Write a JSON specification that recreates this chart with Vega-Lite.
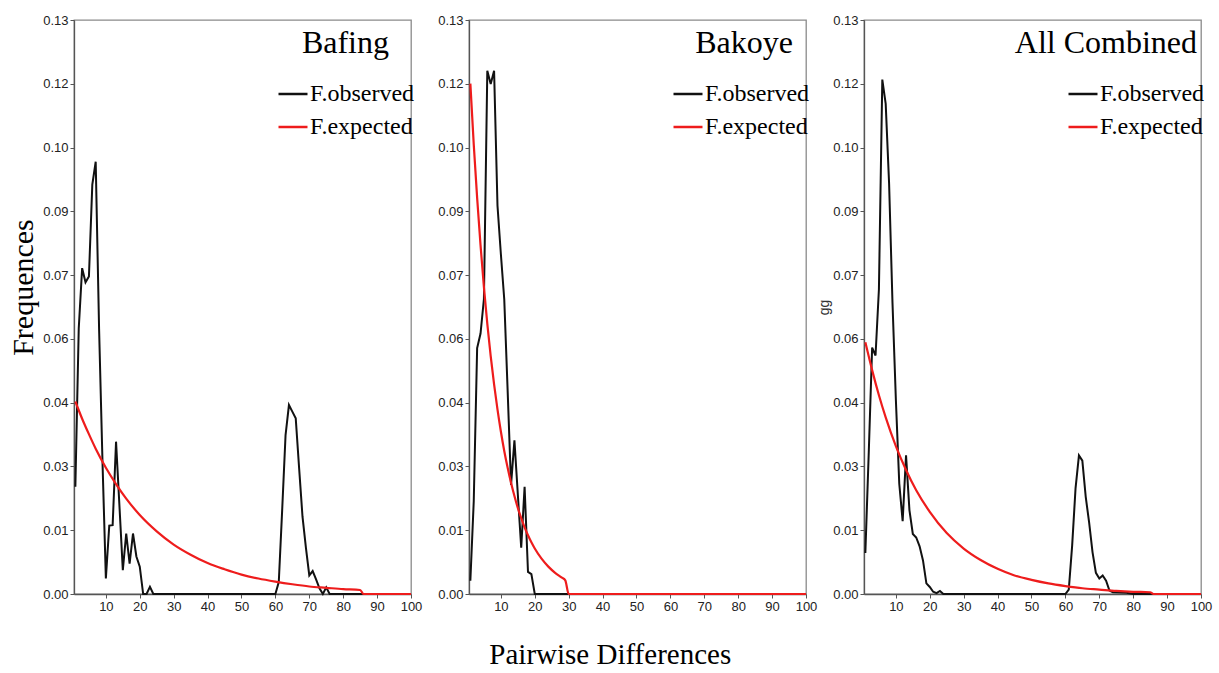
{
  "$schema": "https://vega.github.io/schema/vega-lite/v6.json",
  "background": "white",
  "padding": {"left": 8, "top": 13, "right": 8, "bottom": 2},
  "datasets": {
    "pd": [
      {"panel": "Bafing", "series": "F.observed", "diff": 1, "freq": 0.0243},
      {"panel": "Bafing", "series": "F.observed", "diff": 2, "freq": 0.0602},
      {"panel": "Bafing", "series": "F.observed", "diff": 3, "freq": 0.0738},
      {"panel": "Bafing", "series": "F.observed", "diff": 4, "freq": 0.0706},
      {"panel": "Bafing", "series": "F.observed", "diff": 5, "freq": 0.0719},
      {"panel": "Bafing", "series": "F.observed", "diff": 6, "freq": 0.0927},
      {"panel": "Bafing", "series": "F.observed", "diff": 7, "freq": 0.0979},
      {"panel": "Bafing", "series": "F.observed", "diff": 8, "freq": 0.060},
      {"panel": "Bafing", "series": "F.observed", "diff": 9, "freq": 0.030},
      {"panel": "Bafing", "series": "F.observed", "diff": 10, "freq": 0.0035},
      {"panel": "Bafing", "series": "F.observed", "diff": 11, "freq": 0.0155},
      {"panel": "Bafing", "series": "F.observed", "diff": 12, "freq": 0.0156},
      {"panel": "Bafing", "series": "F.observed", "diff": 13, "freq": 0.0345},
      {"panel": "Bafing", "series": "F.observed", "diff": 14, "freq": 0.020},
      {"panel": "Bafing", "series": "F.observed", "diff": 15, "freq": 0.0054},
      {"panel": "Bafing", "series": "F.observed", "diff": 16, "freq": 0.0137},
      {"panel": "Bafing", "series": "F.observed", "diff": 17, "freq": 0.0069},
      {"panel": "Bafing", "series": "F.observed", "diff": 18, "freq": 0.0137},
      {"panel": "Bafing", "series": "F.observed", "diff": 19, "freq": 0.0085},
      {"panel": "Bafing", "series": "F.observed", "diff": 20, "freq": 0.0062},
      {"panel": "Bafing", "series": "F.observed", "diff": 21, "freq": 0},
      {"panel": "Bafing", "series": "F.observed", "diff": 22, "freq": 0},
      {"panel": "Bafing", "series": "F.observed", "diff": 23, "freq": 0.0016},
      {"panel": "Bafing", "series": "F.observed", "diff": 24, "freq": 0},
      {"panel": "Bafing", "series": "F.observed", "diff": 60, "freq": 0},
      {"panel": "Bafing", "series": "F.observed", "diff": 61, "freq": 0.0027},
      {"panel": "Bafing", "series": "F.observed", "diff": 62, "freq": 0.019},
      {"panel": "Bafing", "series": "F.observed", "diff": 63, "freq": 0.036},
      {"panel": "Bafing", "series": "F.observed", "diff": 64, "freq": 0.0428},
      {"panel": "Bafing", "series": "F.observed", "diff": 65, "freq": 0.0413},
      {"panel": "Bafing", "series": "F.observed", "diff": 66, "freq": 0.0398},
      {"panel": "Bafing", "series": "F.observed", "diff": 67, "freq": 0.0285},
      {"panel": "Bafing", "series": "F.observed", "diff": 68, "freq": 0.0175},
      {"panel": "Bafing", "series": "F.observed", "diff": 69, "freq": 0.0105},
      {"panel": "Bafing", "series": "F.observed", "diff": 70, "freq": 0.0042},
      {"panel": "Bafing", "series": "F.observed", "diff": 71, "freq": 0.0052},
      {"panel": "Bafing", "series": "F.observed", "diff": 72, "freq": 0.0033},
      {"panel": "Bafing", "series": "F.observed", "diff": 73, "freq": 0.0013},
      {"panel": "Bafing", "series": "F.observed", "diff": 74, "freq": 0},
      {"panel": "Bafing", "series": "F.observed", "diff": 75, "freq": 0.0015},
      {"panel": "Bafing", "series": "F.observed", "diff": 76, "freq": 0},
      {"panel": "Bafing", "series": "F.observed", "diff": 100, "freq": 0},
      {"panel": "Bafing", "series": "F.expected", "diff": 1, "freq": 0.0436},
      {"panel": "Bafing", "series": "F.expected", "diff": 3, "freq": 0.0397},
      {"panel": "Bafing", "series": "F.expected", "diff": 5, "freq": 0.0362},
      {"panel": "Bafing", "series": "F.expected", "diff": 7, "freq": 0.0329},
      {"panel": "Bafing", "series": "F.expected", "diff": 10, "freq": 0.0286},
      {"panel": "Bafing", "series": "F.expected", "diff": 13, "freq": 0.0249},
      {"panel": "Bafing", "series": "F.expected", "diff": 16, "freq": 0.0216},
      {"panel": "Bafing", "series": "F.expected", "diff": 20, "freq": 0.0179},
      {"panel": "Bafing", "series": "F.expected", "diff": 25, "freq": 0.0142},
      {"panel": "Bafing", "series": "F.expected", "diff": 30, "freq": 0.0112},
      {"panel": "Bafing", "series": "F.expected", "diff": 35, "freq": 0.0089},
      {"panel": "Bafing", "series": "F.expected", "diff": 40, "freq": 0.0070},
      {"panel": "Bafing", "series": "F.expected", "diff": 45, "freq": 0.0056},
      {"panel": "Bafing", "series": "F.expected", "diff": 50, "freq": 0.0044},
      {"panel": "Bafing", "series": "F.expected", "diff": 55, "freq": 0.0035},
      {"panel": "Bafing", "series": "F.expected", "diff": 60, "freq": 0.0028},
      {"panel": "Bafing", "series": "F.expected", "diff": 65, "freq": 0.0022},
      {"panel": "Bafing", "series": "F.expected", "diff": 70, "freq": 0.0017},
      {"panel": "Bafing", "series": "F.expected", "diff": 75, "freq": 0.0014},
      {"panel": "Bafing", "series": "F.expected", "diff": 80, "freq": 0.0011},
      {"panel": "Bafing", "series": "F.expected", "diff": 85, "freq": 0.0009},
      {"panel": "Bafing", "series": "F.expected", "diff": 86, "freq": 0},
      {"panel": "Bafing", "series": "F.expected", "diff": 100, "freq": 0},

      {"panel": "Bakoye", "series": "F.observed", "diff": 1, "freq": 0.003},
      {"panel": "Bakoye", "series": "F.observed", "diff": 2, "freq": 0.021},
      {"panel": "Bakoye", "series": "F.observed", "diff": 3, "freq": 0.0557},
      {"panel": "Bakoye", "series": "F.observed", "diff": 4, "freq": 0.059},
      {"panel": "Bakoye", "series": "F.observed", "diff": 5, "freq": 0.0668},
      {"panel": "Bakoye", "series": "F.observed", "diff": 6, "freq": 0.1185},
      {"panel": "Bakoye", "series": "F.observed", "diff": 7, "freq": 0.1155},
      {"panel": "Bakoye", "series": "F.observed", "diff": 8, "freq": 0.1185},
      {"panel": "Bakoye", "series": "F.observed", "diff": 9, "freq": 0.088},
      {"panel": "Bakoye", "series": "F.observed", "diff": 10, "freq": 0.077},
      {"panel": "Bakoye", "series": "F.observed", "diff": 11, "freq": 0.0667},
      {"panel": "Bakoye", "series": "F.observed", "diff": 12, "freq": 0.046},
      {"panel": "Bakoye", "series": "F.observed", "diff": 13, "freq": 0.0247},
      {"panel": "Bakoye", "series": "F.observed", "diff": 14, "freq": 0.0348},
      {"panel": "Bakoye", "series": "F.observed", "diff": 15, "freq": 0.0226},
      {"panel": "Bakoye", "series": "F.observed", "diff": 16, "freq": 0.0105},
      {"panel": "Bakoye", "series": "F.observed", "diff": 17, "freq": 0.0243},
      {"panel": "Bakoye", "series": "F.observed", "diff": 18, "freq": 0.005},
      {"panel": "Bakoye", "series": "F.observed", "diff": 19, "freq": 0.0045},
      {"panel": "Bakoye", "series": "F.observed", "diff": 20, "freq": 0},
      {"panel": "Bakoye", "series": "F.observed", "diff": 100, "freq": 0},
      {"panel": "Bakoye", "series": "F.expected", "diff": 1, "freq": 0.1156},
      {"panel": "Bakoye", "series": "F.expected", "diff": 2, "freq": 0.1018},
      {"panel": "Bakoye", "series": "F.expected", "diff": 3, "freq": 0.0897},
      {"panel": "Bakoye", "series": "F.expected", "diff": 4, "freq": 0.0790},
      {"panel": "Bakoye", "series": "F.expected", "diff": 5, "freq": 0.0695},
      {"panel": "Bakoye", "series": "F.expected", "diff": 6, "freq": 0.0612},
      {"panel": "Bakoye", "series": "F.expected", "diff": 7, "freq": 0.0539},
      {"panel": "Bakoye", "series": "F.expected", "diff": 8, "freq": 0.0475},
      {"panel": "Bakoye", "series": "F.expected", "diff": 9, "freq": 0.0418},
      {"panel": "Bakoye", "series": "F.expected", "diff": 10, "freq": 0.0368},
      {"panel": "Bakoye", "series": "F.expected", "diff": 11, "freq": 0.0324},
      {"panel": "Bakoye", "series": "F.expected", "diff": 12, "freq": 0.0286},
      {"panel": "Bakoye", "series": "F.expected", "diff": 13, "freq": 0.0252},
      {"panel": "Bakoye", "series": "F.expected", "diff": 14, "freq": 0.0222},
      {"panel": "Bakoye", "series": "F.expected", "diff": 15, "freq": 0.0195},
      {"panel": "Bakoye", "series": "F.expected", "diff": 16, "freq": 0.0172},
      {"panel": "Bakoye", "series": "F.expected", "diff": 17, "freq": 0.0151},
      {"panel": "Bakoye", "series": "F.expected", "diff": 18, "freq": 0.0133},
      {"panel": "Bakoye", "series": "F.expected", "diff": 19, "freq": 0.0117},
      {"panel": "Bakoye", "series": "F.expected", "diff": 20, "freq": 0.0103},
      {"panel": "Bakoye", "series": "F.expected", "diff": 22, "freq": 0.0080},
      {"panel": "Bakoye", "series": "F.expected", "diff": 24, "freq": 0.0062},
      {"panel": "Bakoye", "series": "F.expected", "diff": 26, "freq": 0.0048},
      {"panel": "Bakoye", "series": "F.expected", "diff": 28, "freq": 0.0037},
      {"panel": "Bakoye", "series": "F.expected", "diff": 29, "freq": 0.0031},
      {"panel": "Bakoye", "series": "F.expected", "diff": 30, "freq": 0},
      {"panel": "Bakoye", "series": "F.expected", "diff": 100, "freq": 0},

      {"panel": "All", "series": "F.observed", "diff": 1, "freq": 0.0093},
      {"panel": "All", "series": "F.observed", "diff": 2, "freq": 0.032},
      {"panel": "All", "series": "F.observed", "diff": 3, "freq": 0.0558},
      {"panel": "All", "series": "F.observed", "diff": 4, "freq": 0.054},
      {"panel": "All", "series": "F.observed", "diff": 5, "freq": 0.069},
      {"panel": "All", "series": "F.observed", "diff": 6, "freq": 0.1165},
      {"panel": "All", "series": "F.observed", "diff": 7, "freq": 0.111},
      {"panel": "All", "series": "F.observed", "diff": 8, "freq": 0.093},
      {"panel": "All", "series": "F.observed", "diff": 9, "freq": 0.066},
      {"panel": "All", "series": "F.observed", "diff": 10, "freq": 0.044},
      {"panel": "All", "series": "F.observed", "diff": 11, "freq": 0.025},
      {"panel": "All", "series": "F.observed", "diff": 12, "freq": 0.0165},
      {"panel": "All", "series": "F.observed", "diff": 13, "freq": 0.0314},
      {"panel": "All", "series": "F.observed", "diff": 14, "freq": 0.019},
      {"panel": "All", "series": "F.observed", "diff": 15, "freq": 0.0136},
      {"panel": "All", "series": "F.observed", "diff": 16, "freq": 0.0128},
      {"panel": "All", "series": "F.observed", "diff": 17, "freq": 0.0108},
      {"panel": "All", "series": "F.observed", "diff": 18, "freq": 0.0076},
      {"panel": "All", "series": "F.observed", "diff": 19, "freq": 0.0024},
      {"panel": "All", "series": "F.observed", "diff": 20, "freq": 0.0016},
      {"panel": "All", "series": "F.observed", "diff": 21, "freq": 0.0005},
      {"panel": "All", "series": "F.observed", "diff": 22, "freq": 0.0002},
      {"panel": "All", "series": "F.observed", "diff": 23, "freq": 0.0007},
      {"panel": "All", "series": "F.observed", "diff": 24, "freq": 0},
      {"panel": "All", "series": "F.observed", "diff": 60, "freq": 0},
      {"panel": "All", "series": "F.observed", "diff": 61, "freq": 0.001},
      {"panel": "All", "series": "F.observed", "diff": 62, "freq": 0.011},
      {"panel": "All", "series": "F.observed", "diff": 63, "freq": 0.024},
      {"panel": "All", "series": "F.observed", "diff": 64, "freq": 0.0314},
      {"panel": "All", "series": "F.observed", "diff": 65, "freq": 0.0302},
      {"panel": "All", "series": "F.observed", "diff": 66, "freq": 0.022},
      {"panel": "All", "series": "F.observed", "diff": 67, "freq": 0.0162},
      {"panel": "All", "series": "F.observed", "diff": 68, "freq": 0.0095},
      {"panel": "All", "series": "F.observed", "diff": 69, "freq": 0.0048},
      {"panel": "All", "series": "F.observed", "diff": 70, "freq": 0.0035},
      {"panel": "All", "series": "F.observed", "diff": 71, "freq": 0.0042},
      {"panel": "All", "series": "F.observed", "diff": 72, "freq": 0.003},
      {"panel": "All", "series": "F.observed", "diff": 73, "freq": 0.0008},
      {"panel": "All", "series": "F.observed", "diff": 74, "freq": 0.0004},
      {"panel": "All", "series": "F.observed", "diff": 78, "freq": 0.0003},
      {"panel": "All", "series": "F.observed", "diff": 80, "freq": 0},
      {"panel": "All", "series": "F.observed", "diff": 100, "freq": 0},
      {"panel": "All", "series": "F.expected", "diff": 1, "freq": 0.057},
      {"panel": "All", "series": "F.expected", "diff": 3, "freq": 0.0507},
      {"panel": "All", "series": "F.expected", "diff": 5, "freq": 0.0450},
      {"panel": "All", "series": "F.expected", "diff": 7, "freq": 0.0400},
      {"panel": "All", "series": "F.expected", "diff": 10, "freq": 0.0335},
      {"panel": "All", "series": "F.expected", "diff": 13, "freq": 0.0281},
      {"panel": "All", "series": "F.expected", "diff": 16, "freq": 0.0235},
      {"panel": "All", "series": "F.expected", "diff": 20, "freq": 0.0186},
      {"panel": "All", "series": "F.expected", "diff": 25, "freq": 0.0138},
      {"panel": "All", "series": "F.expected", "diff": 30, "freq": 0.0103},
      {"panel": "All", "series": "F.expected", "diff": 35, "freq": 0.0077},
      {"panel": "All", "series": "F.expected", "diff": 40, "freq": 0.0057},
      {"panel": "All", "series": "F.expected", "diff": 45, "freq": 0.0042},
      {"panel": "All", "series": "F.expected", "diff": 50, "freq": 0.0032},
      {"panel": "All", "series": "F.expected", "diff": 55, "freq": 0.0024},
      {"panel": "All", "series": "F.expected", "diff": 60, "freq": 0.0018},
      {"panel": "All", "series": "F.expected", "diff": 65, "freq": 0.0013},
      {"panel": "All", "series": "F.expected", "diff": 70, "freq": 0.0010},
      {"panel": "All", "series": "F.expected", "diff": 75, "freq": 0.0007},
      {"panel": "All", "series": "F.expected", "diff": 80, "freq": 0.0005},
      {"panel": "All", "series": "F.expected", "diff": 85, "freq": 0.0004},
      {"panel": "All", "series": "F.expected", "diff": 86, "freq": 0},
      {"panel": "All", "series": "F.expected", "diff": 100, "freq": 0}
    ]
  },
  "data": {"name": "pd"},
  "title": {
    "text": "Pairwise Differences",
    "orient": "bottom",
    "anchor": "middle",
    "font": "Liberation Serif",
    "fontSize": 29,
    "fontWeight": "normal",
    "color": "#000000",
    "offset": 27
  },
  "spacing": 58,
  "bounds": "flush",
  "resolve": {"scale": {"color": "independent"}, "legend": {"color": "independent"}},
  "hconcat": [
    {
      "width": 337,
      "height": 574,
      "title": {"text": "Bafing", "anchor": "end", "frame": "group", "offset": -46, "dx": -22},
      "transform": [{"filter": "datum.panel === 'Bafing'"}],
      "encoding": {
        "x": {"field": "diff", "type": "quantitative", "scale": {"domain": [0.6, 100], "nice": false, "zero": false},
              "axis": {"values": [10, 20, 30, 40, 50, 60, 70, 80, 90, 100], "title": null}},
        "y": {"field": "freq", "type": "quantitative", "scale": {"domain": [0, 0.13], "nice": false},
              "axis": {"values": [0, 0.014444, 0.028889, 0.043333, 0.057778, 0.072222, 0.086667, 0.101111, 0.115556, 0.13], "format": ".2f",
                       "title": "Frequences", "titleFont": "Liberation Serif", "titleFontSize": 30, "titleFontWeight": "normal", "titleColor": "#000000", "titleY": 267, "titlePadding": 4}},
        "color": {"field": "series", "type": "nominal", "scale": {"domain": ["F.observed", "F.expected"], "range": ["#111111", "#ee1c1c"]}}
      },
      "layer": [
        {"transform": [{"filter": "datum.series === 'F.observed'"}], "mark": {"type": "line", "strokeWidth": 2, "interpolate": "linear"}},
        {"transform": [{"filter": "datum.series === 'F.expected'"}], "mark": {"type": "line", "strokeWidth": 2.2, "interpolate": "monotone"}}
      ]
    },
    {
      "width": 337,
      "height": 574,
      "title": {"text": "Bakoye", "anchor": "end", "frame": "group", "offset": -46, "dx": -13},
      "transform": [{"filter": "datum.panel === 'Bakoye'"}],
      "encoding": {
        "x": {"field": "diff", "type": "quantitative", "scale": {"domain": [0.6, 100], "nice": false, "zero": false},
              "axis": {"values": [10, 20, 30, 40, 50, 60, 70, 80, 90, 100], "title": null}},
        "y": {"field": "freq", "type": "quantitative", "scale": {"domain": [0, 0.13], "nice": false},
              "axis": {"values": [0, 0.014444, 0.028889, 0.043333, 0.057778, 0.072222, 0.086667, 0.101111, 0.115556, 0.13], "format": ".2f", "title": null}},
        "color": {"field": "series", "type": "nominal", "scale": {"domain": ["F.observed", "F.expected"], "range": ["#111111", "#ee1c1c"]}}
      },
      "layer": [
        {"transform": [{"filter": "datum.series === 'F.observed'"}], "mark": {"type": "line", "strokeWidth": 2, "interpolate": "linear"}},
        {"transform": [{"filter": "datum.series === 'F.expected'"}], "mark": {"type": "line", "strokeWidth": 2.2, "interpolate": "monotone"}}
      ]
    },
    {
      "width": 337,
      "height": 574,
      "title": {"text": "All Combined", "anchor": "end", "frame": "group", "offset": -46, "dx": -4},
      "transform": [{"filter": "datum.panel === 'All'"}],
      "encoding": {
        "x": {"field": "diff", "type": "quantitative", "scale": {"domain": [0.6, 100], "nice": false, "zero": false},
              "axis": {"values": [10, 20, 30, 40, 50, 60, 70, 80, 90, 100], "title": null}},
        "y": {"field": "freq", "type": "quantitative", "scale": {"domain": [0, 0.13], "nice": false},
              "axis": {"values": [0, 0.014444, 0.028889, 0.043333, 0.057778, 0.072222, 0.086667, 0.101111, 0.115556, 0.13], "format": ".2f",
                       "title": "gg", "titleFont": "Liberation Sans", "titleFontSize": 14, "titleFontWeight": "normal", "titleColor": "#333333", "titlePadding": 1}},
        "color": {"field": "series", "type": "nominal", "scale": {"domain": ["F.observed", "F.expected"], "range": ["#111111", "#ee1c1c"]}}
      },
      "layer": [
        {"transform": [{"filter": "datum.series === 'F.observed'"}], "mark": {"type": "line", "strokeWidth": 2, "interpolate": "linear"}},
        {"transform": [{"filter": "datum.series === 'F.expected'"}], "mark": {"type": "line", "strokeWidth": 2.2, "interpolate": "monotone"}}
      ]
    }
  ],
  "config": {
    "view": {"stroke": "#8a8a8a", "strokeWidth": 1.3},
    "axis": {
      "domainColor": "#555555", "domainWidth": 1.3, "tickColor": "#555555", "tickSize": 4,
      "labelFont": "Liberation Sans", "labelFontSize": 13, "labelColor": "#222222", "labelPadding": 2,
      "grid": false, "labelFlush": false, "labelOverlap": false
    },
    "legend": {
      "orient": "none", "legendX": 203, "legendY": 58, "title": null,
      "symbolType": "stroke", "symbolSize": 841, "symbolStrokeWidth": 2.5,
      "labelFont": "Liberation Serif", "labelFontSize": 24, "labelColor": "#000000",
      "labelOffset": 1, "rowPadding": 5, "padding": 0, "labelLimit": 300
    },
    "title": {"font": "Liberation Serif", "fontSize": 32, "fontWeight": "normal", "color": "#000000"}
  }
}
